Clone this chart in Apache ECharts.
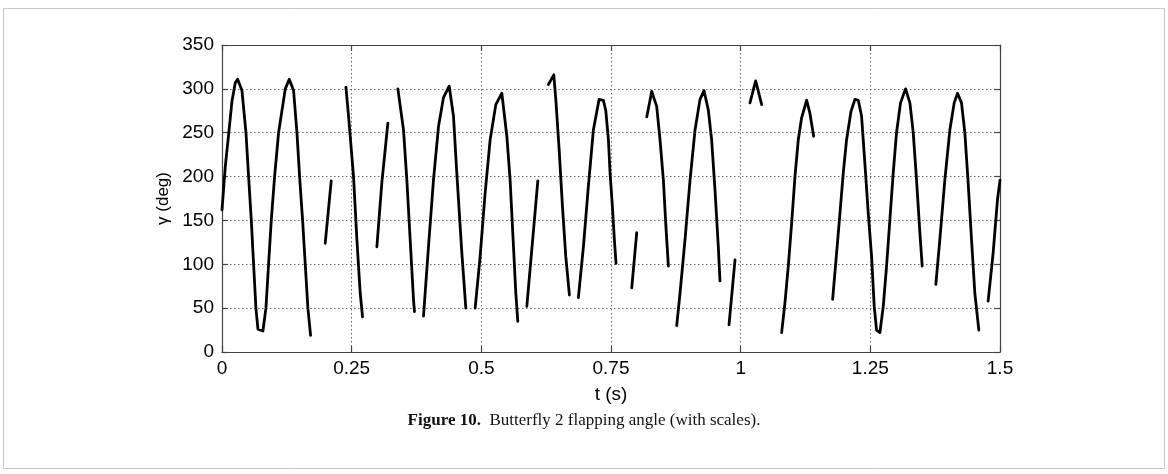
<!DOCTYPE html>
<html>
<head>
<meta charset="utf-8">
<script src="https://cdn.jsdelivr.net/npm/echarts@6/dist/echarts.min.js"></script>
<style>
html,body{margin:0;padding:0;background:#fff;}
#chart{width:1168px;height:474px;}
</style>
</head>
<body>
<div id="chart"></div>
<script>
// Time samples (s); null marks a break in the trace
const times = [
  0,0.0064,0.0128,0.0192,0.0256,0.0301,0.0385,0.0462,0.0513,0.0565,0.0609,0.0654,0.0693,0.0789,0.0847,0.0898,0.0950,0.1014,0.1091,0.1220,0.1297,0.1380,0.1445,0.1496,0.1554,0.1605,0.1656,0.1708,
  null,
  0.199,0.2106,
  null,
  0.2389,0.2440,0.2536,0.2601,0.2665,0.2709,
  null,
  0.2986,0.3082,0.3198,
  null,
  0.3391,0.3500,0.3564,0.3628,0.3692,0.3711,
  null,
  0.3885,0.3981,0.4077,0.4174,0.4270,0.4380,0.4463,0.4527,0.4624,0.4701,
  null,
  0.4881,0.4977,0.5073,0.5170,0.5279,0.5395,0.5492,0.5555,0.5620,0.5665,0.5703,
  null,
  0.5877,0.6089,
  null,
  0.6293,0.6397,0.6436,0.6500,0.6564,0.6628,0.6698,
  null,
  0.6871,0.6968,0.7064,0.7160,0.7270,0.7353,0.7400,0.7450,0.7482,0.7527,0.7565,0.7597,
  null,
  0.7900,0.7996,
  null,
  0.8189,0.8285,0.8381,0.8445,0.8510,0.8555,0.8606,
  null,
  0.8767,0.8831,0.8927,0.9024,0.9120,0.9216,0.9293,0.9376,0.9440,0.9505,0.9569,0.9601,
  null,
  0.9775,0.9891,
  null,
  1.0179,1.0289,1.0405,
  null,
  1.0790,1.0854,1.0918,1.0983,1.1047,1.1111,1.1175,1.1272,1.1336,1.1407,
  null,
  1.1773,1.1850,1.1914,1.1978,1.2042,1.2126,1.2203,1.2267,1.2331,1.2408,1.2460,1.2524,1.2575,1.2620,1.2684,1.2749,1.2813,1.2877,1.2941,1.3005,1.3082,1.3179,1.3263,1.3327,1.3391,1.3455,1.3500,
  null,
  1.3763,1.3840,1.3936,1.4033,1.4117,1.4181,1.4258,1.4322,1.4386,1.4451,1.4515,1.4592,
  null,
  1.4771,1.4868,1.4952,1.5
];
// Flapping angle gamma (deg); null marks a break in the trace
const angles = [
  162,212,248,286,307,311,298,250,200,150,100,50,26,24,50,100,150,200,250,300,311,298,250,200,150,100,50,19,
  null,
  124,195,
  null,
  302,269,200,128,67,40,
  null,
  120,193,261,
  null,
  300,253,196,128,60,46,
  null,
  41,120,196,257,290,303,269,204,113,50,
  null,
  50,109,181,242,282,295,246,196,120,67,35,
  null,
  52,195,
  null,
  305,316,288,231,166,109,65,
  null,
  62,120,189,253,288,287,275,242,204,166,128,101,
  null,
  73,136,
  null,
  268,297,280,242,196,147,98,
  null,
  30,67,128,196,253,288,298,276,242,185,120,81,
  null,
  31,105,
  null,
  284,309,282,
  null,
  22,56,98,147,200,242,267,287,272,246,
  null,
  60,113,158,204,242,274,288,287,269,204,158,109,52,25,22,52,98,151,204,250,284,300,284,250,196,136,98,
  null,
  77,128,196,253,284,295,284,250,193,128,67,25,
  null,
  58,113,174,196
];
const xTicks = [0, 0.25, 0.5, 0.75, 1, 1.25, 1.5];
const yTicks = [0, 50, 100, 150, 200, 250, 300, 350];
const xLabel = 't (s)';
const yLabel = 'γ (deg)';
const captionBold = 'Figure 10.';
const captionText = 'Butterfly 2 flapping angle (with scales).';

const data = [];
let lastT = 0;
for (let i = 0; i < times.length; i++) {
  if (angles[i] === null || times[i] === null) {
    data.push([lastT, '-']);
  } else {
    lastT = times[i];
    data.push([times[i], angles[i]]);
  }
}

const fmtX = v => {
  const m = xTicks.find(t => Math.abs(t - v) < 1e-9);
  return m === undefined ? '' : String(m);
};

const gridLine = {show: true, lineStyle: {color: '#6a6a6a', width: 1, type: [1.5, 2.5]}};
const axisFont = {fontFamily: 'Liberation Sans, Arial, sans-serif', fontSize: 19, color: '#000'};

const chart = echarts.init(document.getElementById('chart'), null, {renderer: 'canvas'});
chart.setOption({
  animation: false,
  backgroundColor: '#fff',
  grid: {left: 222, top: 45, width: 778, height: 307, containLabel: false, show: false},
  xAxis: [
    {
      type: 'value', min: 0, max: 1.5, interval: 0.25, position: 'bottom',
      axisLine: {show: true, onZero: false, lineStyle: {color: '#444', width: 1.2}},
      axisTick: {show: true, inside: true, length: 6, lineStyle: {color: '#444', width: 1.2}},
      axisLabel: Object.assign({margin: 7, formatter: fmtX}, axisFont),
      splitLine: gridLine,
      name: xLabel, nameLocation: 'middle', nameGap: 33,
      nameTextStyle: axisFont
    },
    {
      type: 'value', min: 0, max: 1.5, interval: 0.25, position: 'top',
      axisLine: {show: true, onZero: false, lineStyle: {color: '#444', width: 1.2}},
      axisTick: {show: true, inside: true, length: 6, lineStyle: {color: '#444', width: 1.2}},
      axisLabel: {show: false}, splitLine: {show: false}
    }
  ],
  yAxis: [
    {
      type: 'value', min: 0, max: 350, interval: 50, position: 'left',
      axisLine: {show: true, onZero: false, lineStyle: {color: '#444', width: 1.2}},
      axisTick: {show: true, inside: true, length: 6, lineStyle: {color: '#444', width: 1.2}},
      axisLabel: Object.assign({margin: 8}, axisFont),
      splitLine: gridLine,
      name: yLabel, nameLocation: 'middle', nameGap: 38, nameRotate: 90,
      nameTextStyle: {fontFamily: 'Liberation Sans, Arial, sans-serif', fontSize: 17, color: '#000'}
    },
    {
      type: 'value', min: 0, max: 350, interval: 50, position: 'right',
      axisLine: {show: true, onZero: false, lineStyle: {color: '#444', width: 1.2}},
      axisTick: {show: true, inside: true, length: 6, lineStyle: {color: '#444', width: 1.2}},
      axisLabel: {show: false}, splitLine: {show: false}
    }
  ],
  series: [{
    type: 'line',
    data: data,
    xAxisIndex: 0, yAxisIndex: 0,
    showSymbol: false,
    connectNulls: false,
    lineStyle: {color: '#000', width: 2.8, join: 'round', cap: 'round'},
    clip: true
  }],
  graphic: [
    {
      type: 'rect', silent: true, z: -1,
      shape: {x: 3.5, y: 8.5, width: 1161, height: 460},
      style: {fill: 'none', stroke: '#c8c8c8', lineWidth: 1}
    },
    {
      type: 'text', silent: true,
      x: 584, y: 421,
      style: {
        text: '{b|' + captionBold + '}  ' + captionText,
        align: 'center', verticalAlign: 'middle',
        fontFamily: 'Liberation Serif, serif', fontSize: 17, fill: '#111',
        rich: {b: {fontFamily: 'Liberation Serif, serif', fontSize: 17, fontWeight: 'bold', fill: '#111'}}
      }
    }
  ]
});
</script>
</body>
</html>
